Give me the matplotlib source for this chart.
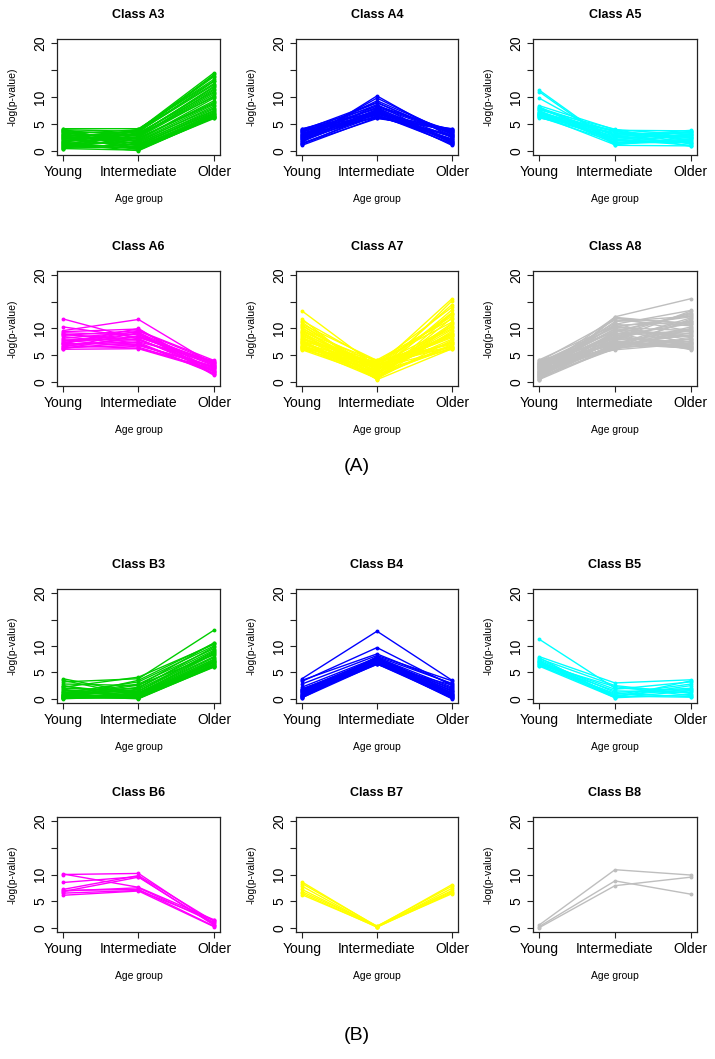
import matplotlib
matplotlib.use("Agg")
import matplotlib.pyplot as plt

plt.rcParams["font.family"] = ["Liberation Sans", "DejaVu Sans"]

AGE_GROUPS = ["Young", "Intermediate", "Older"]
Y_TICKS = [0, 5, 10, 15, 20]
Y_TICK_LABELS = ["0", "5", "10", "", "20"]

# ─── Colours (R palette) ──────────────────────────────────────────────────────
GREEN = "#00CD00"
BLUE = "#0000FF"
CYAN = "#00FFFF"
MAGENTA = "#FF00FF"
YELLOW = "#FFFF00"
GRAY = "#BEBEBE"

# ─── Data: -log(p-value) per age group, one entry per line ───────────────────
a3_young = [0.3, 0.4, 0.5, 0.6, 0.7, 0.8, 0.9, 1.0, 1.1, 1.2, 1.4, 1.5, 1.6, 1.8, 1.9, 2.0, 2.1, 2.3, 2.4, 2.5,
            2.6, 2.8, 2.9, 3.0, 3.1, 3.2, 3.3, 3.5, 3.6, 3.7, 3.8, 3.9, 4.0, 4.1, 1.3, 2.2, 2.7, 3.4, 0.5, 1.7]
a3_inter = [3.9, 0.1, 2.6, 1.2, 3.4, 0.5, 2.0, 3.7, 0.8, 2.9, 1.5, 4.0, 0.3, 2.3, 3.1, 1.0, 3.8, 0.6, 2.5, 1.8,
            3.5, 0.2, 2.8, 1.3, 3.9, 0.9, 2.1, 3.3, 0.4, 1.6, 2.7, 3.6, 1.1, 4.1, 0.0, 2.4, 3.0, 1.9, 0.7, 3.2]
a3_older = [14.5, 6.2, 11.3, 7.0, 14.2, 6.5, 9.8, 13.8, 6.1, 12.0, 7.5, 13.3, 6.3, 8.8, 11.8, 7.2, 12.5, 6.4, 10.2, 8.0,
            12.9, 6.0, 10.8, 7.8, 14.0, 6.6, 9.3, 11.0, 6.8, 8.3, 10.5, 12.3, 7.4, 13.0, 6.2, 9.0, 10.0, 8.6, 6.9, 11.5]

a4_young = [1.0, 1.2, 1.4, 1.5, 1.7, 1.9, 2.0, 2.2, 2.3, 2.5, 2.6, 2.8, 2.9, 3.0, 3.1,
            3.3, 3.4, 3.5, 3.6, 3.7, 3.8, 3.9, 4.0, 4.1, 1.3, 2.1, 2.7, 3.2, 1.8, 2.4]
a4_inter = [6.2, 7.0, 6.5, 10.2, 7.3, 6.8, 9.8, 6.4, 7.6, 9.3, 6.9, 8.0, 6.3, 8.6, 7.1,
            6.6, 8.9, 7.4, 6.1, 7.8, 9.0, 6.7, 8.3, 7.2, 6.0, 7.5, 8.1, 6.9, 7.7, 8.4]
a4_older = [3.8, 1.2, 2.9, 2.4, 1.6, 3.5, 3.0, 2.2, 1.0, 3.3, 4.0, 1.8, 2.7, 1.4, 3.6,
            2.0, 3.1, 1.5, 3.9, 2.5, 2.8, 1.3, 3.4, 2.1, 4.1, 1.7, 3.2, 2.6, 1.9, 3.7]

a5_young = [11.3, 11.0, 9.8, 8.4, 8.2, 8.0, 7.8, 7.6, 7.5, 7.3, 7.2, 7.0, 6.9,
            6.8, 6.7, 6.6, 6.5, 6.4, 6.3, 6.2, 6.1, 7.9, 7.1, 6.6, 6.9]
a5_inter = [1.2, 1.0, 2.0, 3.9, 1.5, 3.5, 2.8, 4.0, 1.3, 3.0, 2.5, 3.7, 1.8,
            2.2, 3.2, 1.1, 2.7, 3.8, 1.6, 2.4, 3.4, 2.9, 1.9, 3.6, 2.1]
a5_older = [2.0, 0.9, 3.5, 3.0, 1.5, 2.6, 3.8, 1.2, 3.2, 2.3, 3.6, 1.8, 2.8,
            1.0, 3.3, 2.5, 1.4, 3.7, 2.1, 2.9, 0.8, 3.4, 1.7, 2.4, 3.1]

a6_young = [11.8, 10.3, 9.6, 9.4, 9.2, 9.0, 8.7, 8.5, 8.2, 8.0, 7.8, 7.6, 7.4,
            7.2, 7.1, 7.0, 6.8, 6.7, 6.5, 6.4, 6.3, 6.2, 6.1, 8.9, 7.3]
a6_inter = [8.0, 8.3, 11.7, 9.9, 8.8, 7.2, 9.6, 6.9, 9.3, 7.8, 6.5, 9.0, 8.5,
            7.0, 10.0, 7.5, 6.3, 8.1, 9.2, 6.8, 7.4, 8.6, 6.2, 7.9, 9.5]
a6_older = [2.5, 3.8, 3.2, 2.0, 3.6, 1.5, 4.0, 2.8, 1.2, 3.4, 2.2, 1.8, 3.0,
            2.6, 1.4, 3.9, 2.4, 1.9, 3.1, 2.9, 1.6, 3.5, 2.1, 2.7, 3.7]

a7_young = [13.3, 11.8, 11.5, 11.2, 10.8, 10.5, 10.2, 10.0, 9.8, 9.6, 9.4, 9.2, 9.0, 8.8, 8.6, 8.4, 8.2, 8.0, 7.8, 7.6,
            7.4, 7.3, 7.2, 7.0, 6.9, 6.8, 6.7, 6.6, 6.5, 6.4, 6.3, 6.2, 6.1, 6.0, 8.1, 9.3, 10.6, 7.7, 6.6, 7.5]
a7_inter = [2.8, 0.5, 3.6, 1.2, 4.0, 2.1, 0.8, 3.3, 1.6, 2.5, 3.9, 0.4, 3.0, 1.9, 2.7, 1.0, 3.5, 2.3, 0.7, 4.1,
            1.4, 3.1, 2.0, 3.7, 0.9, 2.6, 1.7, 3.4, 0.6, 2.9, 1.3, 3.8, 2.2, 1.1, 3.2, 1.8, 2.4, 0.5, 3.0, 1.5]
a7_older = [15.6, 12.0, 8.5, 15.2, 7.0, 14.5, 10.5, 6.5, 13.5, 9.0, 11.2, 6.2, 12.7, 8.0, 10.0, 6.8, 14.0, 7.5, 9.5, 11.8,
            6.4, 8.8, 13.0, 7.2, 10.8, 6.1, 9.8, 12.3, 7.8, 8.3, 11.0, 6.6, 9.2, 7.0, 10.3, 6.3, 8.6, 12.8, 7.4, 9.0]

a8_young = [0.3, 0.4, 0.5, 0.6, 0.7, 0.8, 0.9, 1.0, 1.1, 1.2, 1.3, 1.4, 1.5, 1.6, 1.7, 1.8, 1.9, 2.0, 2.1, 2.2,
            2.3, 2.4, 2.5, 2.6, 2.7, 2.8, 2.9, 3.0, 3.1, 3.2, 3.3, 3.4, 3.5, 3.6, 3.7, 3.8, 3.9, 4.0, 4.1, 0.6,
            1.2, 1.8, 2.4, 3.0, 3.6, 0.9, 1.5, 2.1, 2.7, 3.3]
a8_inter = [12.2, 6.5, 8.0, 12.0, 7.2, 9.5, 6.2, 11.9, 8.5, 7.0, 10.8, 6.8, 9.0, 7.6, 11.3, 6.4, 8.2, 10.0, 7.4, 12.1,
            6.1, 9.2, 7.8, 10.5, 6.6, 8.8, 11.0, 7.3, 9.8, 6.3, 8.4, 10.2, 7.1, 9.4, 6.9, 11.6, 8.1, 7.7, 10.6, 6.7,
            9.1, 7.5, 8.6, 6.0, 10.3, 7.9, 8.9, 6.6, 9.6, 7.0]
a8_older = [15.6, 7.0, 13.3, 9.5, 6.4, 12.8, 8.0, 11.0, 6.8, 10.3, 13.4, 7.6, 9.0, 6.2, 12.3, 7.3, 11.5, 8.5, 6.6, 10.8,
            9.8, 6.1, 12.0, 7.8, 9.2, 13.0, 6.9, 10.0, 8.3, 11.8, 7.1, 9.6, 6.3, 12.6, 8.8, 10.5, 7.5, 6.5, 11.2, 8.1,
            9.4, 6.7, 10.9, 7.2, 12.2, 8.6, 6.0, 9.9, 7.4, 11.4]

b3_young = [3.8, 3.5, 3.2, 2.8, 2.5, 2.2, 2.0, 1.8, 1.5, 1.3, 1.1, 1.0, 0.9, 0.8, 0.7,
            0.6, 0.5, 0.4, 0.3, 0.2, 0.1, 0.1, 0.2, 0.3, 0.5, 0.7, 1.2, 1.6, 2.4, 0.0]
b3_inter = [1.0, 0.5, 3.8, 2.5, 0.2, 4.1, 1.5, 0.3, 2.0, 0.8, 3.2, 0.1, 1.2, 2.8, 0.4,
            1.8, 0.0, 3.5, 0.6, 2.2, 0.2, 1.0, 0.3, 0.1, 2.6, 0.7, 1.4, 0.2, 0.9, 0.5]
b3_older = [8.5, 7.0, 13.0, 10.6, 6.2, 10.3, 9.0, 6.5, 9.8, 7.5, 10.0, 6.3, 8.0, 9.5, 6.8,
            8.8, 6.1, 10.5, 7.2, 9.2, 6.6, 7.8, 6.4, 6.0, 8.3, 7.1, 8.6, 6.2, 7.4, 6.9]

b4_young = [3.8, 3.5, 3.3, 2.8, 2.2, 1.8, 1.6, 1.5, 1.4, 1.3, 1.2, 1.1, 1.0,
            0.9, 0.8, 0.7, 0.6, 0.5, 0.4, 0.3, 0.2, 0.2, 1.7, 1.9, 0.6]
b4_inter = [12.8, 8.5, 9.7, 8.2, 7.8, 7.5, 7.2, 7.0, 6.8, 6.6, 7.4, 6.9, 7.1,
            7.6, 6.7, 7.3, 6.5, 7.0, 6.8, 7.9, 6.6, 7.2, 7.7, 6.9, 8.0]
b4_older = [3.5, 2.8, 2.5, 3.4, 2.2, 1.8, 1.5, 0.4, 1.2, 0.2, 2.0, 0.8, 1.0,
            0.6, 1.6, 0.3, 2.6, 0.1, 0.9, 1.4, 0.5, 0.7, 1.1, 0.0, 2.9]

b5_young = [11.3, 8.0, 7.8, 7.6, 7.4, 7.2, 7.0, 6.9, 6.8, 6.6, 6.5, 6.4, 6.3, 6.2, 7.1]
b5_inter = [2.0, 3.0, 0.3, 2.5, 1.2, 0.5, 1.8, 0.2, 0.8, 2.3, 1.5, 0.4, 1.0, 0.2, 0.6]
b5_older = [1.6, 3.6, 3.4, 1.0, 2.0, 0.3, 3.2, 1.5, 2.8, 0.6, 1.2, 2.5, 0.4, 0.8, 1.8]

b6_young = [10.1, 10.0, 8.5, 7.2, 7.0, 6.9, 6.8, 6.5, 6.1]
b6_inter = [7.6, 10.2, 9.6, 9.8, 7.2, 7.5, 9.5, 7.0, 6.9]
b6_older = [1.5, 0.8, 0.5, 1.2, 0.3, 1.0, 0.6, 1.4, 0.2]

b7_young = [8.6, 8.3, 7.8, 7.2, 6.8, 6.5, 6.2]
b7_inter = [0.2, 0.3, 0.1, 0.2, 0.3, 0.1, 0.2]
b7_older = [8.1, 7.8, 7.4, 7.0, 6.8, 6.6, 6.4]

b8_young = [0.5, 0.2, 0.0]
b8_inter = [10.9, 8.8, 7.9]
b8_older = [9.9, 6.3, 9.5]

PANELS = [
    ("Class A3", GREEN, a3_young, a3_inter, a3_older),
    ("Class A4", BLUE, a4_young, a4_inter, a4_older),
    ("Class A5", CYAN, a5_young, a5_inter, a5_older),
    ("Class A6", MAGENTA, a6_young, a6_inter, a6_older),
    ("Class A7", YELLOW, a7_young, a7_inter, a7_older),
    ("Class A8", GRAY, a8_young, a8_inter, a8_older),
    ("Class B3", GREEN, b3_young, b3_inter, b3_older),
    ("Class B4", BLUE, b4_young, b4_inter, b4_older),
    ("Class B5", CYAN, b5_young, b5_inter, b5_older),
    ("Class B6", MAGENTA, b6_young, b6_inter, b6_older),
    ("Class B7", YELLOW, b7_young, b7_inter, b7_older),
    ("Class B8", GRAY, b8_young, b8_inter, b8_older),
]

# ─── Layout (pixel boxes of each plot region) ────────────────────────────────
W, H = 715, 1059
COLS = [(57, 220), (296, 458), (533, 697)]
ROWS = [(39, 155), (271, 386), (589, 703), (817, 932)]
PX = 0.72  # points per pixel at dpi=100


def draw_panel(ax, title, color, young, inter, older):
    for y0, y1, y2 in zip(young, inter, older):
        ax.plot([1, 2, 3], [y0, y1, y2], color=color, lw=1.0,
                marker="o", markersize=2.8, markeredgewidth=0)
    ax.set_xlim(0.92, 3.08)
    ax.set_ylim(-0.8, 20.8)
    ax.set_xticks([1, 2, 3])
    ax.set_xticklabels(AGE_GROUPS, fontsize=10)
    ax.set_yticks(Y_TICKS)
    ax.set_yticklabels(Y_TICK_LABELS, fontsize=10, rotation=90, va="center")
    ax.tick_params(direction="out", length=4, width=0.8, color="#222222", pad=3)
    for sp in ax.spines.values():
        sp.set_linewidth(0.9)
        sp.set_color("#222222")
    ax.annotate(title, xy=(0.5, 1), xycoords="axes fraction",
                xytext=(0, 24 * PX), textcoords="offset points",
                ha="center", va="center", fontsize=9, fontweight="bold")
    ax.annotate("Age group", xy=(0.5, 0), xycoords="axes fraction",
                xytext=(0, -44 * PX), textcoords="offset points",
                ha="center", va="center", fontsize=7.5)
    ax.annotate("-log(p-value)", xy=(0, 0.5), xycoords="axes fraction",
                xytext=(-44 * PX, 0), textcoords="offset points",
                ha="center", va="center", rotation=90, fontsize=7.5)


def main():
    fig = plt.figure(figsize=(W / 100, H / 100), dpi=100)
    for i, (title, color, young, inter, older) in enumerate(PANELS):
        left, right = COLS[i % 3]
        top, bottom = ROWS[i // 3]
        ax = fig.add_axes([left / W, 1 - bottom / H, (right - left) / W, (bottom - top) / H])
        draw_panel(ax, title, color, young, inter, older)

    fig.text(357 / W, 1 - 466 / H, "(A)", ha="center", va="center", fontsize=14)
    fig.text(357 / W, 1 - 1035 / H, "(B)", ha="center", va="center", fontsize=14)
    fig.savefig("out.png", dpi=100, facecolor="white")


if __name__ == "__main__":
    main()
